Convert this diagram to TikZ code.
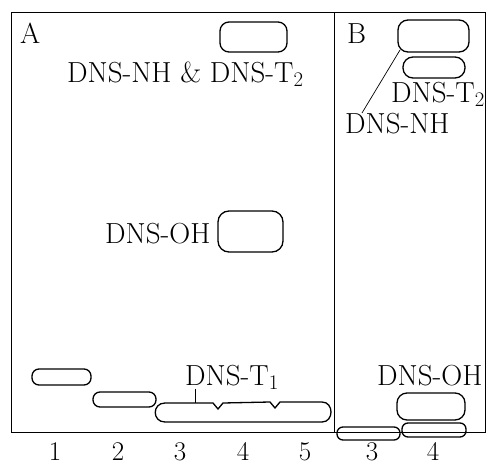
\documentclass[tikz,border=0pt]{standalone}
\begin{document}
\begin{tikzpicture}[x=1pt,y=-1pt,
  lbl/.style={font=\fontsize{29}{31}\selectfont, inner sep=0pt},
  num/.style={font=\fontsize{27}{29}\selectfont, inner sep=0pt},
  spot/.style={draw, line width=1.3pt, rounded corners=9pt, inner sep=0pt},
  spotline/.style={draw, line width=1.3pt},
  frame/.style={draw, line width=0.9pt},
  lead/.style={draw, line width=0.7pt}]
\useasboundingbox (0,0) rectangle (490,466);
% frames
\draw[frame] (11,12) rectangle (485,432);
\draw[frame] (334,12) -- (334,432);
% panel letters
\node[lbl, anchor=base west] (pa) at (20,43) {A};
\node[lbl, anchor=base west] (pb) at (347,43) {B};
% panel A spots
\node[spot, minimum width=67pt, minimum height=30pt] (a4top) at (253.5,37) {};
\node[spot, minimum width=65pt, minimum height=41pt, rounded corners=11pt] (aoh) at (250.5,231.5) {};
\node[spot, minimum width=59pt, minimum height=16pt, rounded corners=7pt] (a1) at (61.5,377) {};
\node[spot, minimum width=63pt, minimum height=15pt, rounded corners=7pt] (a2) at (124.5,399.5) {};
\draw[spotline] (165,403) -- (213,403) -- (218,409) -- (223,403) -- (270,402) -- (275,408) -- (280,402) -- (322,402)
  .. controls (334,402) and (334,422) .. (322,422) -- (165,422)
  .. controls (152,422) and (152,403) .. (165,403) -- cycle;
\coordinate (t1end) at (195,403);
% panel A labels
\node[lbl, anchor=base west] (lnhA) at (67,82) {DNS-NH \& DNS-T$_2$};
\node[lbl, anchor=base west] (lohA) at (105,243) {DNS-OH};
\node[lbl, anchor=base west] (lt1) at (185,385) {DNS-T$_1$};
\coordinate (t1start) at (195,389);
\draw[lead] (t1start) -- (t1end);
% panel B spots
\node[spot, minimum width=71pt, minimum height=32pt, rounded corners=10pt] (btop) at (433.5,36) {};
\node[spot, minimum width=62pt, minimum height=21pt, rounded corners=10pt] (bt2) at (434,67.5) {};
\node[spot, minimum width=68pt, minimum height=27pt, rounded corners=10pt] (boh) at (431,406.5) {};
\node[spot, minimum width=63pt, minimum height=13pt, rounded corners=6pt] (b3) at (368.5,433.5) {};
\node[spot, minimum width=64pt, minimum height=14pt, rounded corners=6pt] (b4) at (434,430) {};
% panel B labels
\node[lbl, anchor=base west] (lt2B) at (391,102) {DNS-T$_2$};
\node[lbl, anchor=base west] (lnhB) at (345,133) {DNS-NH};
\node[lbl, anchor=base west] (lohB) at (377,385) {DNS-OH};
\coordinate (nhstart) at (400,50);
\coordinate (nhend) at (362,113);
\draw[lead] (nhstart) -- (nhend);
% lane numbers
\foreach \n/\x/\t in {l1/55/1, l2/118/2, l3/180/3, l4/243/4, l5/305/5, m3/372/3, m4/433/4}
  \node[num, anchor=base] (\n) at (\x,460) {\t};
\end{tikzpicture}
\end{document}
